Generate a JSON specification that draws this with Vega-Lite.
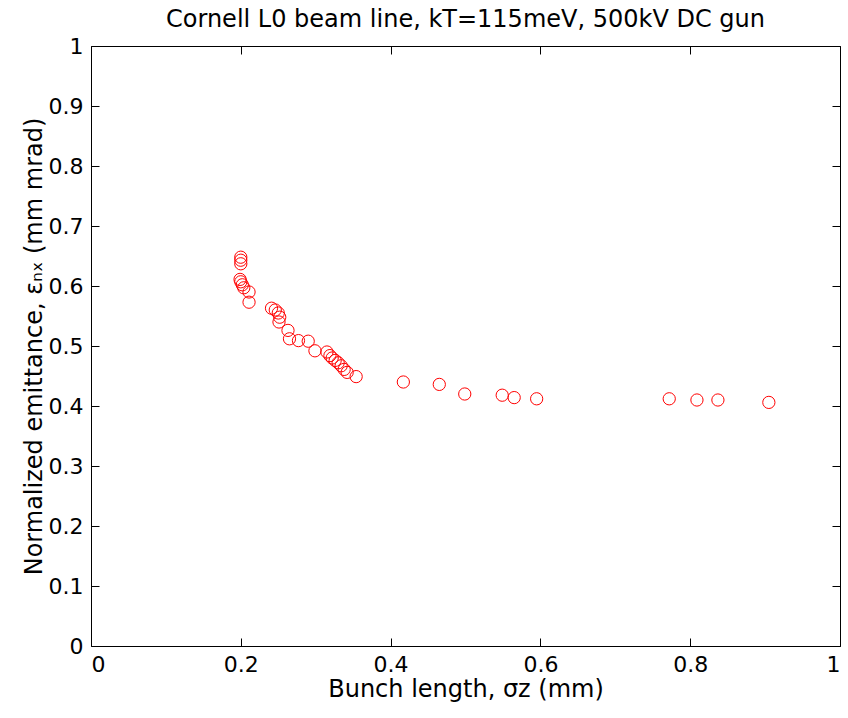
{
  "$schema": "https://vega.github.io/schema/vega-lite/v6.json",
  "autosize": "none",
  "width": 749,
  "height": 600,
  "padding": {"left": 91, "top": 46, "right": 8, "bottom": 72},
  "background": "white",
  "title": {"text": "Cornell L0 beam line, kT=115meV, 500kV DC gun", "font": "DejaVu Sans", "fontSize": 24, "fontWeight": "normal", "color": "#000", "anchor": "middle", "offset": 3},
  "config": {
    "view": {"stroke": "#000", "strokeWidth": 1},
    "axis": {"labelFont": "DejaVu Sans", "titleFont": "DejaVu Sans", "labelFontSize": 22, "titleFontSize": 24, "titleFontWeight": "normal", "labelColor": "#000", "titleColor": "#000", "tickColor": "#000", "tickWidth": 1, "domain": false, "grid": false, "tickSize": -8, "labelPadding": 16}
  },
  "data": {"values": [
    {"bunch": 0.200, "emit": 0.648},
    {"bunch": 0.200, "emit": 0.643},
    {"bunch": 0.200, "emit": 0.637},
    {"bunch": 0.199, "emit": 0.611},
    {"bunch": 0.200, "emit": 0.607},
    {"bunch": 0.202, "emit": 0.602},
    {"bunch": 0.204, "emit": 0.597},
    {"bunch": 0.211, "emit": 0.590},
    {"bunch": 0.211, "emit": 0.573},
    {"bunch": 0.241, "emit": 0.563},
    {"bunch": 0.246, "emit": 0.560},
    {"bunch": 0.250, "emit": 0.555},
    {"bunch": 0.252, "emit": 0.548},
    {"bunch": 0.251, "emit": 0.540},
    {"bunch": 0.263, "emit": 0.526},
    {"bunch": 0.265, "emit": 0.512},
    {"bunch": 0.277, "emit": 0.509},
    {"bunch": 0.290, "emit": 0.508},
    {"bunch": 0.299, "emit": 0.492},
    {"bunch": 0.315, "emit": 0.490},
    {"bunch": 0.319, "emit": 0.484},
    {"bunch": 0.322, "emit": 0.480},
    {"bunch": 0.326, "emit": 0.476},
    {"bunch": 0.330, "emit": 0.472},
    {"bunch": 0.334, "emit": 0.467},
    {"bunch": 0.338, "emit": 0.461},
    {"bunch": 0.342, "emit": 0.456},
    {"bunch": 0.354, "emit": 0.449},
    {"bunch": 0.417, "emit": 0.440},
    {"bunch": 0.465, "emit": 0.436},
    {"bunch": 0.499, "emit": 0.420},
    {"bunch": 0.549, "emit": 0.418},
    {"bunch": 0.565, "emit": 0.414},
    {"bunch": 0.595, "emit": 0.412},
    {"bunch": 0.772, "emit": 0.412},
    {"bunch": 0.809, "emit": 0.410},
    {"bunch": 0.837, "emit": 0.410},
    {"bunch": 0.905, "emit": 0.406}
  ]},
  "layer": [
    {
      "mark": {"type": "point", "shape": "circle", "filled": false, "color": "#ff0000", "strokeWidth": 1, "size": 150, "opacity": 1},
      "encoding": {
        "x": {"field": "bunch", "type": "quantitative", "scale": {"domain": [0, 1], "nice": false, "zero": false},
              "axis": {"orient": "bottom", "values": [0, 0.2, 0.4, 0.6, 0.8, 1], "title": "Bunch length, σz (mm)", "titlePadding": 2, "format": "~g"}},
        "y": {"field": "emit", "type": "quantitative", "scale": {"domain": [0, 1], "nice": false, "zero": false},
              "axis": {"orient": "left", "values": [0, 0.1, 0.2, 0.3, 0.4, 0.5, 0.6, 0.7, 0.8, 0.9, 1], "title": "Normalized emittance, εₙₓ (mm mrad)", "titlePadding": 2, "format": "~g"}}
      }
    },
    {
      "mark": {"type": "point", "opacity": 0},
      "encoding": {
        "x": {"field": "bunch", "type": "quantitative", "axis": {"orient": "top", "values": [0, 0.2, 0.4, 0.6, 0.8, 1], "labels": false, "title": null}},
        "y": {"field": "emit", "type": "quantitative", "axis": {"orient": "right", "values": [0, 0.1, 0.2, 0.3, 0.4, 0.5, 0.6, 0.7, 0.8, 0.9, 1], "labels": false, "title": null}}
      }
    }
  ],
  "resolve": {"axis": {"x": "independent", "y": "independent"}}
}
